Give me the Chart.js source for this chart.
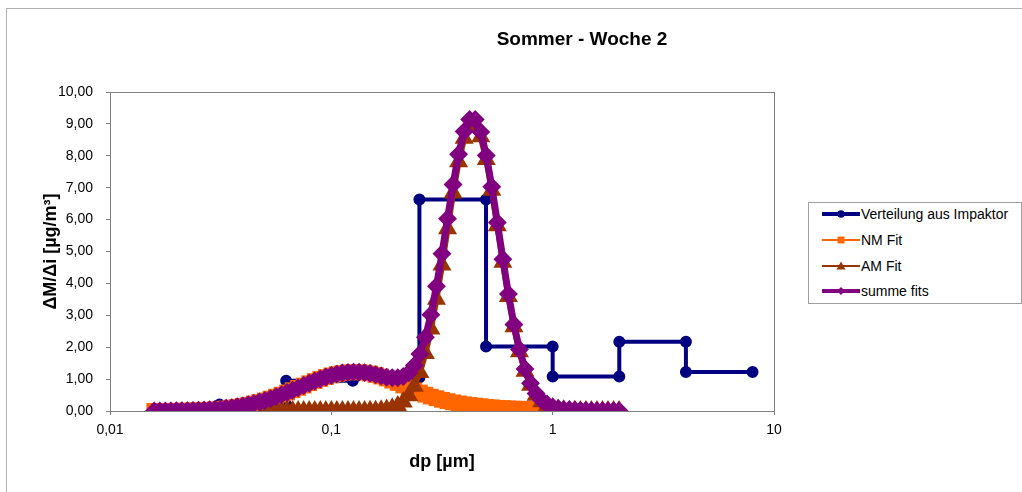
<!DOCTYPE html>
<html>
<head>
<meta charset="utf-8">
<script src="https://cdn.jsdelivr.net/npm/chart.js@4.4.0/dist/chart.umd.min.js"></script>
<style>
  body { margin: 0; background: #fff; font-family: "Liberation Sans", Arial, sans-serif; }
  #wrap { position: relative; width: 1022px; height: 492px; overflow: hidden; }
  #frame { position: absolute; left: 6px; top: 8px; width: 1100px; height: 600px;
           border-top: 1px solid #b0b0b0; border-left: 1px solid #b0b0b0; }
  #c { position: absolute; left: 0; top: 0; }
  #title { position: absolute; left: 0; top: 28px; width: 1164px; text-align: center;
           font-weight: bold; font-size: 19px; line-height: 22px; color: #000; }
  #legend { position: absolute; left: 808px; top: 202px; width: 212px; height: 100px;
            border: 1px solid #a0a0a0; background: #fff; }
  .row { position: absolute; left: 0; height: 14px; width: 212px; }
  .row canvas { position: absolute; left: 13px; top: 1px; }
  .row span { position: absolute; left: 52px; top: 0; font-size: 14px; line-height: 14px;
              white-space: nowrap; color: #000; }
</style>
</head>
<body>
<div id="wrap">
  <div id="frame"></div>
  <canvas id="c" width="1022" height="492"></canvas>
  <div id="title">Sommer - Woche 2</div>
  <div id="legend"></div>
</div>
<script>
// Impaktor stages (µm) and measured mass
var stageLow  = [0.03125, 0.0625, 0.125, 0.25, 0.5, 1, 2, 4];
var stageHigh = [0.0625, 0.125, 0.25, 0.5, 1, 2, 4, 8];
var impaktor  = [0.20, 0.95, 1.05, 6.63, 2.02, 1.08, 2.17, 1.22];

// fit grid (µm)
var dp = [0.01585,0.01679,0.01778,0.01884,0.01995,0.02113,0.02239,0.02371,0.02512,0.02661,
  0.02818,0.02985,0.03162,0.03350,0.03548,0.03758,0.03981,0.04217,0.04467,0.04732,
  0.05012,0.05309,0.05623,0.05957,0.06310,0.06683,0.07079,0.07499,0.07943,0.08414,
  0.08913,0.09441,0.1000,0.1059,0.1122,0.1189,0.1259,0.1334,0.1413,0.1496,
  0.1585,0.1679,0.1778,0.1884,0.1995,0.2113,0.2239,0.2371,0.2512,0.2661,
  0.2818,0.2985,0.3162,0.3350,0.3548,0.3758,0.3981,0.4217,0.4467,0.4732,
  0.5012,0.5309,0.5623,0.5957,0.6310,0.6683,0.7079,0.7499,0.7943,0.8414,
  0.8913,0.9441,1.000,1.059,1.122,1.189,1.259,1.334,1.413,1.496,
  1.585,1.679,1.778,1.884,1.995];

var nmFit = [0.002,0.003,0.004,0.005,0.007,0.010,0.013,0.018,0.024,0.031,
  0.041,0.053,0.067,0.085,0.106,0.131,0.161,0.196,0.236,0.281,
  0.331,0.387,0.447,0.512,0.581,0.652,0.725,0.798,0.871,0.940,
  1.005,1.064,1.115,1.157,1.189,1.210,1.220,1.217,1.202,1.176,
  1.13,1.08,1.02,0.95,0.88,0.80,0.72,0.65,0.58,0.51,
  0.45,0.40,0.35,0.31,0.27,0.24,0.21,0.19,0.17,0.15,
  0.13,0.115,0.10,0.09,0.08,0.075,0.07,0.065,0.06,0.055,
  0.05,0.045,0.04,null,null,null,null,null,null,null,
  null,null,null,null,null];

var amFit = [null,null,null,null,null,null,null,null,null,null,
  null,null,null,null,null,null,null,null,null,null,
  0,0,0,0,0,0,0,0,0,0,
  0,0,0,0,0,0,0,0,0,0.005,
  0.010,0.022,0.044,0.085,0.157,0.280,0.476,0.776,1.208,1.802,
  2.569,3.505,4.577,5.716,6.832,7.813,8.550,8.952,8.966,8.595,
  7.883,6.917,5.808,4.666,3.587,2.638,1.857,1.250,0.806,0.497,
  0.293,0.165,0.089,0.047,0.023,0.011,0.005,0.002,0.001,0,
  0,0,0,0,0];

var summeFits = [0.002,0.003,0.004,0.005,0.007,0.010,0.013,0.018,0.024,0.031,
  0.041,0.053,0.067,0.085,0.106,0.131,0.161,0.196,0.236,0.281,
  0.331,0.387,0.447,0.512,0.581,0.652,0.725,0.798,0.871,0.940,
  1.005,1.064,1.115,1.157,1.189,1.210,1.220,1.217,1.202,1.18,
  1.14,1.10,1.06,1.04,1.04,1.08,1.20,1.43,1.79,2.31,
  3.02,3.91,4.93,6.03,7.10,8.05,8.76,9.14,9.14,8.75,
  8.01,7.03,5.91,4.76,3.67,2.71,1.93,1.32,0.87,0.55,
  0.34,0.21,0.13,0.08,0.05,0.04,0.03,0.02,0.02,0.01,
  0.01,0.01,0.01,0.01,0.01];

var xTicks = [0.01, 0.1, 1, 10];
var yTicks = [0, 1, 2, 3, 4, 5, 6, 7, 8, 9, 10];

var seriesNames = ['Verteilung aus Impaktor', 'NM Fit', 'AM Fit', 'summe fits'];
var colors = ['#000080', '#FF6600', '#993300', '#800080'];

function curve(vals) {
  var pts = [];
  for (var i = 0; i < dp.length; i++) {
    if (vals[i] !== null) pts.push({x: dp[i], y: vals[i]});
  }
  return pts;
}

var stepPts = [];
for (var i = 0; i < impaktor.length; i++) {
  stepPts.push({x: stageLow[i], y: impaktor[i]});
  stepPts.push({x: stageHigh[i], y: impaktor[i]});
}

Chart.defaults.font.family = '"Liberation Sans", Arial, sans-serif';

var framePlugin = {
  id: 'frame',
  beforeDatasetsDraw: function(chart) {
    var a = chart.chartArea, ctx = chart.ctx;
    ctx.save();
    ctx.strokeStyle = '#808080';
    ctx.lineWidth = 1;
    ctx.strokeRect(a.left + 0.5, a.top + 0.5, a.right - a.left, a.bottom - a.top);
    ctx.restore();
  }
};

var ctx = document.getElementById('c').getContext('2d');
var chart = new Chart(ctx, {
  type: 'line',
  data: {
    datasets: [{
      label: seriesNames[0], data: stepPts, order: 4,
      borderColor: colors[0], backgroundColor: colors[0], borderWidth: 4,
      pointStyle: 'circle', pointRadius: 4, pointBackgroundColor: colors[0], pointBorderColor: colors[0]
    }, {
      label: seriesNames[1], data: curve(nmFit), order: 3,
      borderColor: colors[1], backgroundColor: colors[1], borderWidth: 8, borderJoinStyle: 'round',
      pointStyle: 'rect', pointRadius: 5.5, pointBackgroundColor: colors[1], pointBorderColor: colors[1]
    }, {
      label: seriesNames[2], data: curve(amFit), order: 2,
      borderColor: colors[2], backgroundColor: colors[2], borderWidth: 6, borderJoinStyle: 'round',
      pointStyle: 'triangle', pointRadius: 5, pointBackgroundColor: colors[2], pointBorderColor: colors[2]
    }, {
      label: seriesNames[3], data: curve(summeFits), order: 1,
      borderColor: colors[3], backgroundColor: colors[3], borderWidth: 7, borderJoinStyle: 'round',
      pointStyle: 'rectRot', pointRadius: 4.5, pointBackgroundColor: colors[3], pointBorderColor: colors[3]
    }]
  },
  options: {
    responsive: false,
    animation: false,
    layout: { padding: { left: 0, right: 248, top: 92, bottom: 0 } },
    plugins: { legend: { display: false }, tooltip: { enabled: false }, title: { display: false } },
    scales: {
      x: {
        type: 'logarithmic', min: 0.01, max: 10,
        afterBuildTicks: function(s) { s.ticks = xTicks.map(function(v) { return {value: v}; }); },
        afterFit: function(s) { s.height = 81; },
        ticks: {
          autoSkip: false, maxRotation: 0, padding: 7, color: '#000', font: { size: 14 },
          callback: function(v) { return String(v).replace('.', ','); }
        },
        grid: { drawOnChartArea: false, tickLength: 4, color: '#808080' },
        border: { color: '#808080' },
        title: { display: true, text: 'dp [µm]', color: '#000',
                 font: { size: 18, weight: 'bold' }, padding: { top: 0, bottom: 19 } }
      },
      y: {
        min: 0, max: 10,
        afterBuildTicks: function(s) { s.ticks = yTicks.map(function(v) { return {value: v}; }); },
        afterFit: function(s) { s.width = 110; },
        ticks: {
          padding: 13, color: '#000', font: { size: 14 },
          callback: function(v) { return v.toFixed(2).replace('.', ','); }
        },
        grid: { drawOnChartArea: false, tickLength: 4, color: '#808080' },
        border: { color: '#808080' },
        title: { display: true, text: 'ΔM/Δi [µg/m³]', color: '#000',
                 font: { size: 18, weight: 'bold' }, padding: { top: 40, bottom: 0 } }
      }
    }
  },
  plugins: [framePlugin]
});

// legend
var legendStyles = [
  { lw: 4, marker: 'circle' },
  { lw: 2, marker: 'square' },
  { lw: 2, marker: 'triangle' },
  { lw: 4, marker: 'diamond' }
];
var rowCenters = [11, 37, 63, 88];
var legend = document.getElementById('legend');
for (var j = 0; j < seriesNames.length; j++) {
  var row = document.createElement('div');
  row.className = 'row';
  row.style.top = (rowCenters[j] - 7) + 'px';
  var cv = document.createElement('canvas');
  cv.width = 38; cv.height = 12;
  var g = cv.getContext('2d');
  g.strokeStyle = colors[j]; g.fillStyle = colors[j]; g.lineWidth = legendStyles[j].lw;
  g.beginPath(); g.moveTo(0, 6); g.lineTo(38, 6); g.stroke();
  g.beginPath();
  var m = legendStyles[j].marker;
  if (m === 'circle') g.arc(19, 6, 3.8, 0, Math.PI * 2);
  else if (m === 'square') g.rect(15.5, 2.5, 7, 7);
  else if (m === 'triangle') { g.moveTo(19, 1.5); g.lineTo(23.5, 9.5); g.lineTo(14.5, 9.5); g.closePath(); }
  else { g.moveTo(19, 2); g.lineTo(23, 6); g.lineTo(19, 10); g.lineTo(15, 6); g.closePath(); }
  g.fill();
  var sp = document.createElement('span');
  sp.textContent = seriesNames[j];
  row.appendChild(cv);
  row.appendChild(sp);
  legend.appendChild(row);
}
</script>
</body>
</html>
